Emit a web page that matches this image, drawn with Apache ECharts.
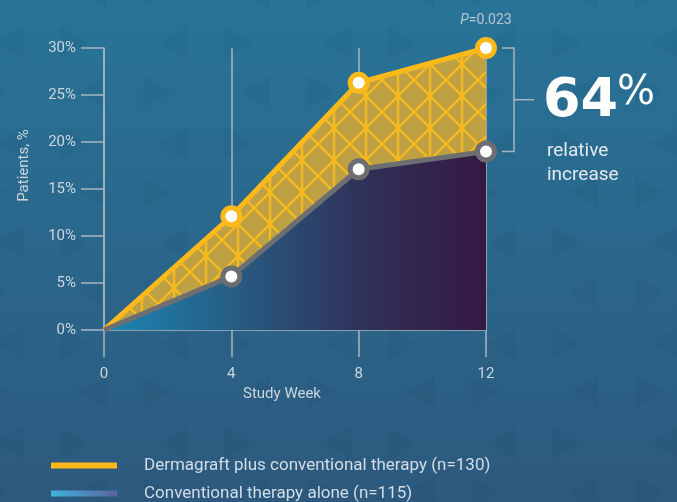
<!DOCTYPE html>
<html>
<head>
<meta charset="utf-8">
<script src="https://cdn.jsdelivr.net/npm/echarts@6/dist/echarts.min.js"></script>
<style>
  html, body { margin: 0; padding: 0; }
  #chart { width: 677px; height: 502px; }
</style>
</head>
<body>
<div id="chart"></div>
<script>
// data
var weeks = [0, 4, 8, 12];
var dermagraft = [0, 12.1, 26.3, 30.0];
var conventional = [0, 5.7, 17.1, 19.0];
var seriesNames = ['Dermagraft plus conventional therapy (n=130)', 'Conventional therapy alone (n=115)'];
var relIncrease = '64';

var yellow = '#fbb91a';
var grey = '#6d6e71';
var axisGrey = '#a7b6c2';
var textCol = '#cbd6df';

// no marker at the starting point
function pairs(vals) {
  return weeks.map(function (w, i) {
    return i === 0 ? { value: [w, vals[i]], symbol: 'none' } : [w, vals[i]];
  });
}

// crosshatch tile for the difference area
function hatchTile() {
  var c = document.createElement('canvas');
  c.width = 32; c.height = 32;
  var g = c.getContext('2d');
  g.fillStyle = '#bda144';
  g.fillRect(0, 0, 32, 32);
  g.strokeStyle = '#f7b91b';
  g.lineWidth = 2.4;
  g.beginPath();
  g.moveTo(14, -2); g.lineTo(14, 34);
  for (var k = -2; k <= 2; k++) {
    var x0 = 14 + k * 32;
    g.moveTo(x0, 0); g.lineTo(x0 + 32, 32);
    g.moveTo(x0, 0); g.lineTo(x0 - 32, 32);
  }
  g.stroke();
  return c;
}

// faint triangle texture of the background
function triangleTile() {
  var w = 164, h = 100;
  var c = document.createElement('canvas');
  c.width = w; c.height = h;
  var g = c.getContext('2d');
  g.fillStyle = 'rgba(15, 60, 95, 0.08)';
  function tri(x, y, dir) {
    for (var dx = -w; dx <= w; dx += w) {
      for (var dy = -h; dy <= h; dy += h) {
        var xx = x + dx, yy = y + dy;
        g.beginPath();
        if (dir < 0) {
          g.moveTo(xx, yy); g.lineTo(xx + 28, yy - 16); g.lineTo(xx + 28, yy + 16);
        } else {
          g.moveTo(xx + 28, yy); g.lineTo(xx, yy - 16); g.lineTo(xx, yy + 16);
        }
        g.closePath();
        g.fill();
      }
    }
  }
  tri(159, 43, -1);
  tri(224 - w, 43, 1);
  tri(570 % w, 92, -1);
  tri(635 % w, 92, 1);
  return c;
}

var myChart = echarts.init(document.getElementById('chart'));

var option = {
  backgroundColor: {
    type: 'linear', x: 0, y: 0, x2: 0, y2: 1,
    colorStops: [
      { offset: 0, color: '#287498' },
      { offset: 1, color: '#2d597e' }
    ]
  },
  textStyle: { fontFamily: 'Roboto' },
  grid: { left: 104, right: 191, top: 48, bottom: 172 },
  legend: {
    orient: 'vertical',
    left: 51,
    top: 457,
    height: 60,
    padding: 0,
    itemWidth: 66,
    itemHeight: 6,
    itemGap: 11,
    icon: 'rect',
    selectedMode: false,
    textStyle: { color: '#d3dde6', fontSize: 17, lineHeight: 17, padding: [0, 0, 0, 22] },
    data: [
      { name: seriesNames[0], itemStyle: { color: yellow, borderWidth: 0 } },
      {
        name: seriesNames[1],
        itemStyle: {
          borderWidth: 0,
          color: {
            type: 'linear', x: 0, y: 0, x2: 1, y2: 0,
            colorStops: [{ offset: 0, color: '#40b4dc' }, { offset: 1, color: '#5b62a0' }]
          }
        }
      }
    ]
  },
  xAxis: {
    type: 'value',
    min: 0,
    max: 12,
    interval: 4,
    name: 'Study Week',
    nameLocation: 'middle',
    nameGap: 56,
    nameTextStyle: { color: textCol, fontSize: 15, padding: [0, 26, 0, 0] },
    axisLine: { lineStyle: { color: axisGrey, width: 1.5 } },
    axisTick: { length: 27, lineStyle: { color: axisGrey, width: 1.5 } },
    axisLabel: { color: textCol, fontSize: 15, margin: 37 },
    splitLine: { show: true, lineStyle: { color: axisGrey, width: 1.5 } }
  },
  yAxis: {
    type: 'value',
    min: 0,
    max: 30,
    interval: 5,
    name: 'Patients, %',
    nameLocation: 'middle',
    nameGap: 72,
    nameTextStyle: { color: textCol, fontSize: 15, padding: [0, 0, 0, 47] },
    axisLine: { show: true, lineStyle: { color: axisGrey, width: 1.5 } },
    axisTick: { show: true, length: 23, lineStyle: { color: axisGrey, width: 1.5 } },
    axisLabel: { color: textCol, fontSize: 15, margin: 28, formatter: '{value}%' },
    splitLine: { show: false }
  },
  series: [
    {
      name: seriesNames[0],
      type: 'line',
      data: pairs(dermagraft),
      z: 3,
      symbol: 'circle',
      symbolSize: 17,
      lineStyle: { color: yellow, width: 5 },
      itemStyle: { color: '#ffffff', borderColor: yellow, borderWidth: 5 },
      areaStyle: { color: { image: hatchTile(), repeat: 'repeat' }, opacity: 1 },
      markPoint: {
        symbol: 'circle',
        symbolSize: 1,
        itemStyle: { color: 'transparent' },
        label: {
          show: true,
          offset: [0, -28],
          color: '#b9c6d0',
          fontSize: 14,
          formatter: '{i|P}=0.023',
          rich: { i: { fontStyle: 'italic', color: '#b9c6d0', fontSize: 14 } }
        },
        data: [{ coord: [weeks[3], dermagraft[3]] }]
      }
    },
    {
      name: seriesNames[1],
      type: 'line',
      data: pairs(conventional),
      z: 4,
      symbol: 'circle',
      symbolSize: 17,
      lineStyle: { color: grey, width: 5 },
      itemStyle: { color: '#ffffff', borderColor: grey, borderWidth: 5 },
      areaStyle: {
        opacity: 1,
        color: {
          type: 'linear', x: 0, y: 0, x2: 1, y2: 0,
          colorStops: [
            { offset: 0, color: '#1a87b4' },
            { offset: 0.35, color: '#275b82' },
            { offset: 0.7, color: '#302f57' },
            { offset: 1, color: '#351943' }
          ]
        }
      }
    }
  ]
};

myChart.setOption(option);

// bracket and callout anchored to the week-12 values
var top12 = myChart.convertToPixel({ gridIndex: 0 }, [weeks[3], dermagraft[3]]);
var bot12 = myChart.convertToPixel({ gridIndex: 0 }, [weeks[3], conventional[3]]);
var bx = top12[0] + 28;
var midY = (top12[1] + bot12[1]) / 2;

myChart.setOption({
  graphic: [
    {
      type: 'rect',
      z: -10,
      silent: true,
      shape: { x: 0, y: 0, width: 677, height: 502 },
      style: { fill: { image: triangleTile(), repeat: 'repeat' } }
    },
    {
      type: 'polyline',
      shape: { points: [[bx - 12, top12[1]], [bx, top12[1]], [bx, bot12[1]], [bx - 12, bot12[1]]] },
      style: { stroke: axisGrey, lineWidth: 1.5, fill: null }
    },
    {
      type: 'line',
      shape: { x1: bx, y1: midY, x2: bx + 20, y2: midY },
      style: { stroke: axisGrey, lineWidth: 1.5 }
    },
    {
      type: 'text',
      left: 543, top: 75,
      style: { text: relIncrease, font: 'bold 54px "DejaVu Sans"', fill: '#ffffff' }
    },
    {
      type: 'text',
      left: 617, top: 74,
      style: { text: '%', font: '40px "DejaVu Sans"', fill: '#ffffff' }
    },
    {
      type: 'text',
      left: 547, top: 139,
      style: { text: 'relative\nincrease', font: '19px Roboto', lineHeight: 24, fill: '#e2e9ef' }
    }
  ]
});
</script>
</body>
</html>
